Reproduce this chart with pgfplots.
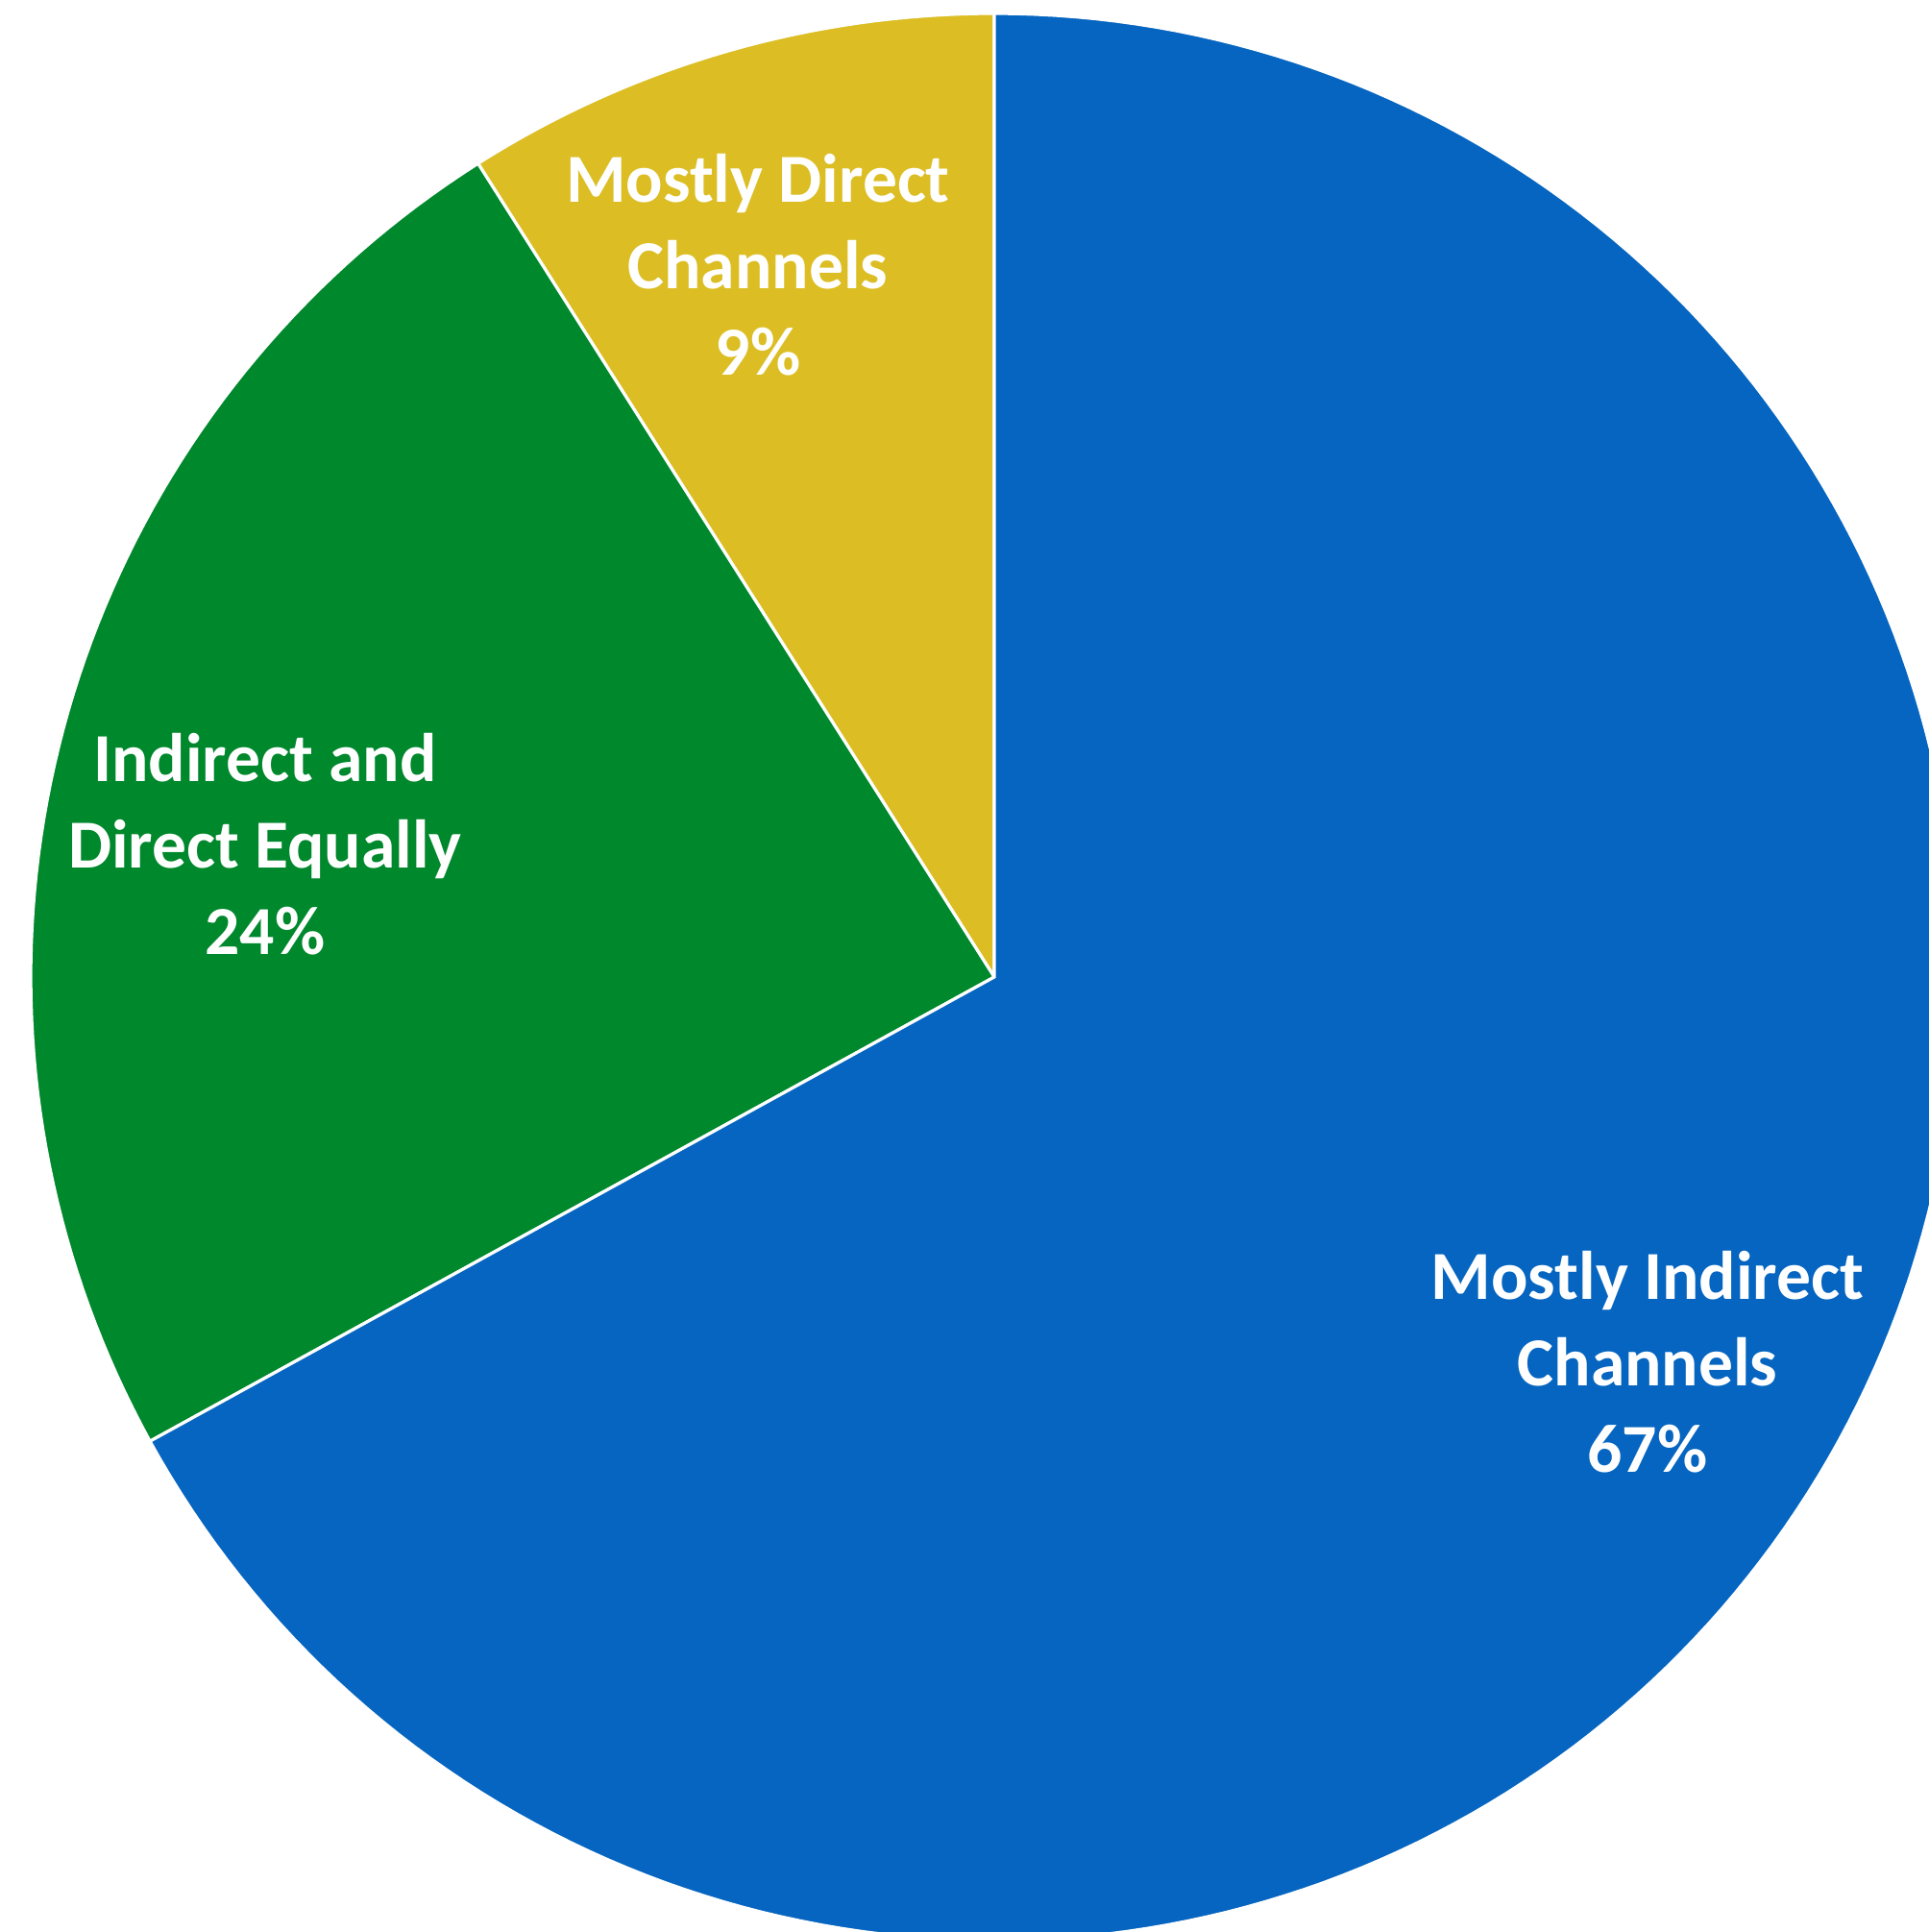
\documentclass[border=0pt]{standalone}
\usepackage{pgfplots}
\pgfplotsset{compat=1.18}
\usepackage{fontspec}
\setmainfont{Carlito}
\definecolor{cblue}{HTML}{0565C0}
\definecolor{cgreen}{HTML}{00882C}
\definecolor{cyellow}{HTML}{DCBE24}
\begin{document}
\begin{tikzpicture}
% shares (percent)
\def\vDirect{9}
\def\vEqual{24}
\def\vIndirect{67}
\pgfmathsetmacro{\aA}{90}
\pgfmathsetmacro{\aB}{\aA+\vDirect*3.6}
\pgfmathsetmacro{\aC}{\aB+\vEqual*3.6}
\pgfmathsetmacro{\aD}{\aC+\vIndirect*3.6}
\begin{axis}[
  width=502pt, height=502.75pt, scale only axis,
  xmin=-1035, xmax=973, ymin=-994, ymax=1017,
  hide axis, clip=true,
]
\addplot[fill=cyellow, draw=white, line width=0.8pt, domain=\aA:\aB, samples=60]
  ({1003*cos(x)},{1003*sin(x)}) -- (axis cs:0,0) -- cycle;
\addplot[fill=cgreen, draw=white, line width=0.8pt, domain=\aB:\aC, samples=80]
  ({1003*cos(x)},{1003*sin(x)}) -- (axis cs:0,0) -- cycle;
\addplot[fill=cblue, draw=white, line width=0.8pt, domain=\aC:\aD, samples=200]
  ({1003*cos(x)},{1003*sin(x)}) -- (axis cs:0,0) -- cycle;
\node[align=center, text=white, font=\fontsize{17.9}{22.5}\selectfont\bfseries] at (axis cs:-246,741) {Mostly Direct\\Channels\\\vDirect\%};
\node[align=center, text=white, font=\fontsize{17.9}{22.5}\selectfont\bfseries] at (axis cs:-759,138) {Indirect and\\Direct Equally\\\vEqual\%};
\node[align=center, text=white, font=\fontsize{17.9}{22.5}\selectfont\bfseries] at (axis cs:680,-401) {Mostly Indirect\\Channels\\\vIndirect\%};
\end{axis}
\pgfresetboundingbox
\path (current axis.south west) rectangle (current axis.north east);
\end{tikzpicture}
\end{document}
